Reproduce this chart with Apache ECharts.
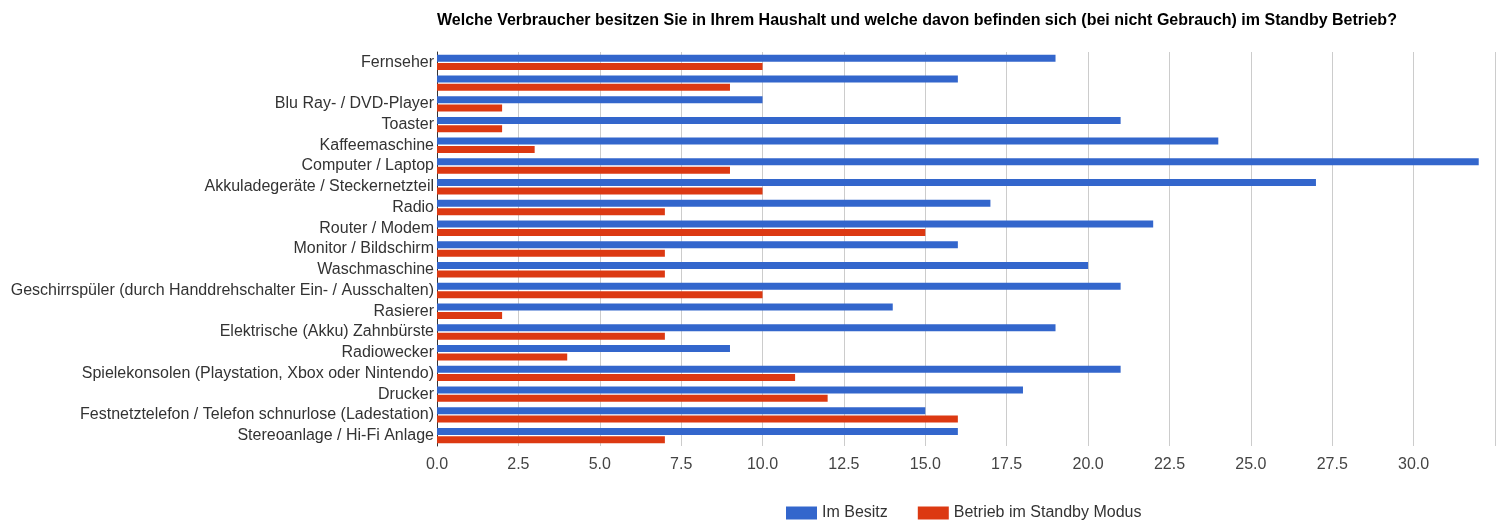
<!DOCTYPE html>
<html>
<head>
<meta charset="utf-8">
<script src="https://cdn.jsdelivr.net/npm/echarts@6/dist/echarts.min.js"></script>
<style>
html,body{margin:0;padding:0;background:#fff;}
#chart{width:1498px;height:522px;}
</style>
</head>
<body>
<div id="chart"></div>
<script>
const titleText = 'Welche Verbraucher besitzen Sie in Ihrem Haushalt und welche davon befinden sich (bei nicht Gebrauch) im Standby Betrieb?';
const categories = [
  'Fernseher',
  '',
  'Blu Ray- / DVD-Player',
  'Toaster',
  'Kaffeemaschine',
  'Computer / Laptop',
  'Akkuladegeräte / Steckernetzteil',
  'Radio',
  'Router / Modem',
  'Monitor / Bildschirm',
  'Waschmaschine',
  'Geschirrspüler (durch Handdrehschalter Ein- / Ausschalten)',
  'Rasierer',
  'Elektrische (Akku) Zahnbürste',
  'Radiowecker',
  'Spielekonsolen (Playstation, Xbox oder Nintendo)',
  'Drucker',
  'Festnetztelefon / Telefon schnurlose (Ladestation)',
  'Stereoanlage / Hi-Fi Anlage'
];
const seriesNames = ['Im Besitz', 'Betrieb im Standby Modus'];
const imBesitz = [19, 16, 10, 21, 24, 32, 27, 17, 22, 16, 20, 21, 14, 19, 9, 21, 18, 15, 16];
const standby = [10, 9, 2, 2, 3, 9, 10, 7, 15, 7, 7, 10, 2, 7, 4, 11, 12, 16, 7];
const axisMin = 0, axisMax = 32.5, axisStep = 2.5;

const chart = echarts.init(document.getElementById('chart'), null, {renderer: 'canvas'});
const font = '"Liberation Sans", Arial, sans-serif';
chart.setOption({
  animation: false,
  backgroundColor: '#fff',
  textStyle: {fontFamily: font},
  title: {
    text: titleText,
    left: 432,
    top: 8,
    textStyle: {fontFamily: font, fontSize: 16, fontWeight: 'bold', color: '#000'}
  },
  legend: {
    data: seriesNames,
    top: 500,
    left: 781,
    itemWidth: 31,
    itemHeight: 13,
    itemGap: 30,
    icon: 'rect',
    textStyle: {fontFamily: font, fontSize: 16, color: '#333'}
  },
  grid: {left: 437, right: 3, top: 52, bottom: 76, containLabel: false},
  xAxis: {
    type: 'value',
    min: axisMin,
    max: axisMax,
    interval: axisStep,
    axisLine: {show: false},
    axisTick: {show: false},
    splitLine: {show: true, lineStyle: {color: '#cccccc', width: 1}},
    axisLabel: {
      margin: 11,
      fontFamily: font,
      fontSize: 16,
      color: '#444',
      formatter: v => (v >= axisMax ? '' : v.toFixed(1))
    }
  },
  yAxis: {
    type: 'category',
    data: categories,
    inverse: true,
    axisLine: {show: true, lineStyle: {color: '#333', width: 1}},
    axisTick: {show: false},
    axisLabel: {margin: 3, fontFamily: font, fontSize: 16, color: '#333', interval: 0}
  },
  series: [
    {
      name: seriesNames[0],
      type: 'bar',
      data: imBesitz,
      barWidth: 7,
      barGap: '20%',
      itemStyle: {color: '#3366cc'}
    },
    {
      name: seriesNames[1],
      type: 'bar',
      data: standby,
      barWidth: 7,
      barGap: '20%',
      itemStyle: {color: '#dc3912'}
    }
  ]
});
</script>
</body>
</html>
